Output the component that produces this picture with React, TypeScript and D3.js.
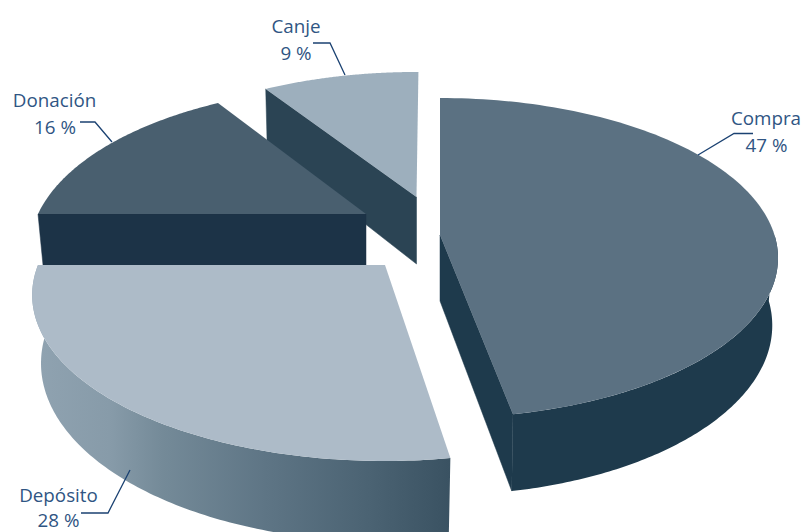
import React from "react";
import * as d3 from "d3";

const categories = ["Compra", "Depósito", "Donación", "Canje"];
const shares = [47, 28, 16, 9];
const percentLabels = ["47 %", "28 %", "16 %", "9 %"];

const WIDTH = 802;
const HEIGHT = 532;
const FONT = "'Open Sans', 'Noto Sans', sans-serif";
const TEXT_COLOR = "#2f5583";
const LEADER_COLOR = "#1b4272";
const DEG = Math.PI / 180;

// Each exploded slice sits on its own projected ellipse.
const geometry: Record<string, any> = {
  Compra: { ax: 440, ay: 235, rx: 334.5, ry: 156.7, p: 0.1437, depth: 66, shrink: 0.983, startTrim: 0, endTrim: 0, top: "#5b7182", side: "#1e3a4c", cut: "#1e3a4c", cutAt: "end" },
  "Depósito": { ax: 385, ay: 265, rx: 347, ry: 160.5, p: 0.181, depth: 66, shrink: 0.975, startTrim: 1.9, endTrim: 0, top: "#adbbc8", side: "url(#depositoSide)", cut: null },
  "Donación": { ax: 366, ay: 214, rx: 328, ry: 156, p: 0.222, depth: 67, shrink: 0.98, startTrim: 0, endTrim: 0, top: "#495f6f", side: null, cut: "#1c3347", cutAt: "start" },
  Canje: { ax: 416.5, ay: 197, rx: 323, ry: 146.9, p: 0.175, depth: 67, shrink: 0.99, startTrim: 0, endTrim: 0.4, top: "#9dafbd", side: null, cut: "#2b4454", cutAt: "start" },
};

const labelLayout: Record<string, any> = {
  Compra: { x: 766, y1: 125, x2: 766.5, y2: 152, leader: [[753, 133.5], [734, 133.5], [698, 155]] },
  "Depósito": { x: 58.5, y1: 502, x2: 58.5, y2: 527, leader: [[81, 513], [108, 513], [130, 470]] },
  "Donación": { x: 54.5, y1: 107, x2: 55, y2: 134, leader: [[80, 122], [95, 122], [112, 142]] },
  Canje: { x: 296, y1: 33, x2: 296, y2: 60, leader: [[313, 43], [330, 43], [345, 75]] },
};

const drawOrder = ["Canje", "Donación", "Compra", "Depósito"];

const pie = d3.pie<number>().sort(null).value((d) => d);
const arcs = pie(shares);

const lineGen = d3.line<[number, number]>().x((d) => d[0]).y((d) => d[1]);

function topPoint(g: any, t: number): [number, number] {
  const w = 1 + g.p * Math.cos(t);
  return [g.ax + (g.rx * Math.sin(t)) / w, g.ay - (g.ry * Math.cos(t)) / w];
}
function bottomPoint(g: any, t: number): [number, number] {
  const w = 1 + g.p * Math.cos(t);
  const [x, y] = topPoint(g, t);
  return [g.ax + (x - g.ax) * g.shrink, y + g.depth / w];
}
function sweep(a: number, b: number, n = 120) {
  return d3.range(n + 1).map((i) => a + ((b - a) * i) / n);
}

function Slice({ name, index }: { name: string; index: number }) {
  const g = geometry[name];
  const a0 = arcs[index].startAngle + g.startTrim * DEG;
  const a1 = arcs[index].endAngle + g.endTrim * DEG;
  const ts = sweep(a0, a1);
  const apex: [number, number] = [g.ax, g.ay];
  const apexLow: [number, number] = [g.ax, g.ay + g.depth];
  const topPath = lineGen([apex, ...ts.map((t) => topPoint(g, t))]) + "Z";

  const parts: React.ReactNode[] = [];
  if (g.side) {
    // curved outer wall, front half only, as a union of ruled quads
    const from = Math.max(a0, 90 * DEG);
    const to = Math.min(a1, 270 * DEG);
    const ws = sweep(from, to);
    const wall = ws
      .slice(1)
      .map((t, i) => {
        const s = ws[i];
        return lineGen([topPoint(g, s), topPoint(g, t), bottomPoint(g, t), bottomPoint(g, s)]) + "Z";
      })
      .join("");
    parts.push(<path key="wall" d={wall} fill={g.side} />);
  }
  if (g.cut) {
    const t = g.cutAt === "start" ? a0 : a1;
    const cut = lineGen([apex, topPoint(g, t), bottomPoint(g, t), apexLow]) + "Z";
    parts.push(<path key="cut" d={cut} fill={g.cut} stroke={g.cut} strokeWidth={0.5} />);
  }
  return (
    <g>
      {parts}
      <path d={topPath} fill={g.top} />
    </g>
  );
}

export default function App() {
  return (
    <svg
      width={WIDTH}
      height={HEIGHT}
      viewBox={`0 0 ${WIDTH} ${HEIGHT}`}
      style={{ position: "absolute", left: 0, top: 0, background: "#fff", display: "block" }}
    >
      <defs>
        <linearGradient id="depositoSide" gradientUnits="userSpaceOnUse" x1="40" x2="450" y1="0" y2="0">
          <stop offset="0" stopColor="#8fa2b0" />
          <stop offset="0.17" stopColor="#879ba9" />
          <stop offset="0.3" stopColor="#748a98" />
          <stop offset="0.55" stopColor="#5e7585" />
          <stop offset="0.8" stopColor="#4b6373" />
          <stop offset="1" stopColor="#3a5262" />
        </linearGradient>
      </defs>
      {drawOrder.map((name) => (
        <Slice key={name} name={name} index={categories.indexOf(name)} />
      ))}
      {categories.map((name, i) => {
        const l = labelLayout[name];
        return (
          <g key={name}>
            <path d={lineGen(l.leader) as string} fill="none" stroke={LEADER_COLOR} strokeWidth={1.3} />
            <text x={l.x} y={l.y1} textAnchor="middle" fontFamily={FONT} fontSize={18.8} fill={TEXT_COLOR}>{name}</text>
            <text x={l.x2} y={l.y2} textAnchor="middle" fontFamily={FONT} fontSize={18.8} fill={TEXT_COLOR}>{percentLabels[i]}</text>
          </g>
        );
      })}
    </svg>
  );
}
